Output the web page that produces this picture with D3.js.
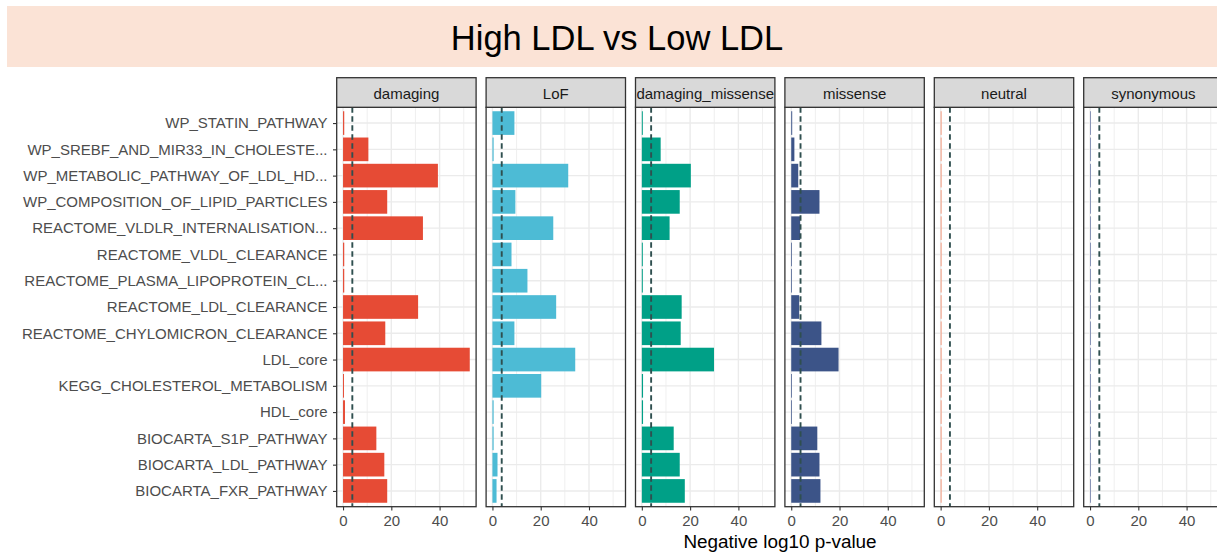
<!DOCTYPE html>
<html>
<head>
<meta charset="utf-8">
<script src="https://cdn.jsdelivr.net/npm/d3@7"></script>
<style>
  html, body { margin: 0; padding: 0; background: #ffffff; overflow: hidden; }
  svg { display: block; font-family: "Liberation Sans", Arial, Helvetica, sans-serif; }
</style>
</head>
<body>
<svg id="chart" width="1217" height="552"></svg>
<script>
// Pathway gene sets, top to bottom
const categories = [
  "WP_STATIN_PATHWAY",
  "WP_SREBF_AND_MIR33_IN_CHOLESTE...",
  "WP_METABOLIC_PATHWAY_OF_LDL_HD...",
  "WP_COMPOSITION_OF_LIPID_PARTICLES",
  "REACTOME_VLDLR_INTERNALISATION...",
  "REACTOME_VLDL_CLEARANCE",
  "REACTOME_PLASMA_LIPOPROTEIN_CL...",
  "REACTOME_LDL_CLEARANCE",
  "REACTOME_CHYLOMICRON_CLEARANCE",
  "LDL_core",
  "KEGG_CHOLESTEROL_METABOLISM",
  "HDL_core",
  "BIOCARTA_S1P_PATHWAY",
  "BIOCARTA_LDL_PATHWAY",
  "BIOCARTA_FXR_PATHWAY"
];

// Variant annotation classes (facets)
const facets = ["damaging", "LoF", "damaging_missense", "missense", "neutral", "synonymous"];

// Negative log10 p-values per facet, in category order
const damaging          = [0.5, 10.5, 39.3, 18.3, 33.1, 0.5, 0.5, 31.1, 17.5, 52.5, 0.4, 0.8, 13.8, 17.1, 18.3];
const lof               = [9.1, 0.5, 31.4, 9.5, 25.2, 7.9, 14.5, 26.4, 9.1, 34.3, 20.2, 0.5, 0.5, 2.1, 1.7];
const damagingMissense  = [0.4, 7.8, 20.3, 15.7, 11.5, 0.4, 0.4, 16.5, 16.1, 29.9, 0.5, 0.5, 13.2, 15.7, 17.8];
const missense          = [0.4, 1.3, 2.9, 11.7, 3.7, 0.3, 0.3, 3.3, 12.5, 19.6, 0.3, 0.3, 10.8, 11.7, 12.1];
const neutral           = [0.4, 0.4, 0.4, 0.4, 0.4, 0.4, 0.4, 0.4, 0.4, 0.4, 0.4, 0.4, 0.4, 0.4, 0.4];
const synonymous        = [0.4, 0.4, 0.4, 0.4, 0.4, 0.4, 0.4, 0.4, 0.4, 0.4, 0.4, 0.4, 0.4, 0.4, 0.4];

const facetValues = [damaging, lof, damagingMissense, missense, neutral, synonymous];
const facetColors = ["#E64B35", "#4DBBD5", "#00A087", "#3C5488", "#F39B7F", "#8491B4"];

// Significance threshold (-log10 p)
const threshold = 3.85;

const xTicks = [0, 20, 40];
const xMinor = [10, 30, 50];

// ---- layout ----
const svg = d3.select("#chart");
const panelLeft0 = 336.7, panelStep = 149.4, panelW = 139.4;
const panelTop = 107.3, panelBottom = 506.7;
const stripTop = 77.7;
const axisFont = 15;

// Title band
svg.append("rect")
  .attr("x", 7).attr("y", 6).attr("width", 1220).attr("height", 61)
  .attr("fill", "#FBE3D6");
svg.append("text")
  .attr("x", 617).attr("y", 50)
  .attr("text-anchor", "middle")
  .attr("font-size", 34.5)
  .attr("fill", "#000")
  .text("High LDL vs Low LDL");

const maxVal = d3.max(facetValues.flat());
const x = d3.scaleLinear()
  .domain([-0.05 * maxVal, 1.05 * maxVal])
  .range([0, panelW]);

const y = d3.scalePoint()
  .domain(categories)
  .range([panelTop, panelBottom])
  .padding(0.6);
const barH = y.step() * 0.9;

facets.forEach((f, i) => {
  const vals = facetValues[i];
  const left = panelLeft0 + i * panelStep;
  const g = svg.append("g").attr("transform", `translate(${left},0)`);

  // panel background
  g.append("rect").attr("x", 0).attr("y", panelTop)
    .attr("width", panelW).attr("height", panelBottom - panelTop)
    .attr("fill", "#fff");

  // minor vertical grid
  g.selectAll(".minor").data(xMinor).join("line")
    .attr("x1", d => x(d)).attr("x2", d => x(d))
    .attr("y1", panelTop).attr("y2", panelBottom)
    .attr("stroke", "#EBEBEB").attr("stroke-width", 0.8);
  // major vertical grid
  g.selectAll(".major").data(xTicks).join("line")
    .attr("x1", d => x(d)).attr("x2", d => x(d))
    .attr("y1", panelTop).attr("y2", panelBottom)
    .attr("stroke", "#EBEBEB").attr("stroke-width", 1.4);
  // horizontal grid
  g.selectAll(".hgrid").data(categories).join("line")
    .attr("x1", 0).attr("x2", panelW)
    .attr("y1", d => y(d)).attr("y2", d => y(d))
    .attr("stroke", "#EBEBEB").attr("stroke-width", 1.4);

  // bars
  g.selectAll(".bar").data(categories).join("rect")
    .attr("x", x(0))
    .attr("y", d => y(d) - barH / 2)
    .attr("width", (d, j) => Math.max(0, x(vals[j]) - x(0)))
    .attr("height", barH)
    .attr("fill", facetColors[i]);

  // threshold line
  g.append("line")
    .attr("x1", x(threshold)).attr("x2", x(threshold))
    .attr("y1", panelTop).attr("y2", panelBottom)
    .attr("stroke", "#2F4F4F").attr("stroke-width", 1.9)
    .attr("stroke-dasharray", "5.5,3.5");

  // panel border
  g.append("rect").attr("x", 0).attr("y", panelTop)
    .attr("width", panelW).attr("height", panelBottom - panelTop)
    .attr("fill", "none").attr("stroke", "#333333").attr("stroke-width", 1.3);

  // strip
  g.append("rect").attr("x", 0).attr("y", stripTop)
    .attr("width", panelW).attr("height", panelTop - stripTop)
    .attr("fill", "#D9D9D9").attr("stroke", "#333333").attr("stroke-width", 1.3);
  g.append("text")
    .attr("x", panelW / 2).attr("y", 98.5)
    .attr("text-anchor", "middle")
    .attr("font-size", axisFont).attr("fill", "#1A1A1A")
    .text(f);

  // x axis
  const xAxis = d3.axisBottom(x).tickValues(xTicks).tickSize(3.7).tickPadding(5);
  const ax = g.append("g").attr("transform", `translate(0,${panelBottom})`).call(xAxis);
  ax.select(".domain").remove();
  ax.selectAll(".tick line").attr("stroke", "#333333").attr("stroke-width", 1.1);
  ax.selectAll(".tick text").attr("font-size", axisFont).attr("fill", "#4D4D4D")
    .attr("font-family", "Liberation Sans, Arial, sans-serif");

  // y axis on the first panel
  if (i === 0) {
    const yAxis = d3.axisLeft(y).tickSize(3.7).tickPadding(5.5);
    const ay = g.append("g").call(yAxis);
    ay.select(".domain").remove();
    ay.selectAll(".tick line").attr("stroke", "#333333").attr("stroke-width", 1.1);
    ay.selectAll(".tick text").attr("font-size", axisFont).attr("fill", "#4D4D4D")
      .attr("font-family", "Liberation Sans, Arial, sans-serif");
  }
});

// x axis title
svg.append("text")
  .attr("x", 780).attr("y", 548.3)
  .attr("text-anchor", "middle")
  .attr("font-size", 18.9).attr("fill", "#000")
  .text("Negative log10 p-value");
</script>
</body>
</html>
